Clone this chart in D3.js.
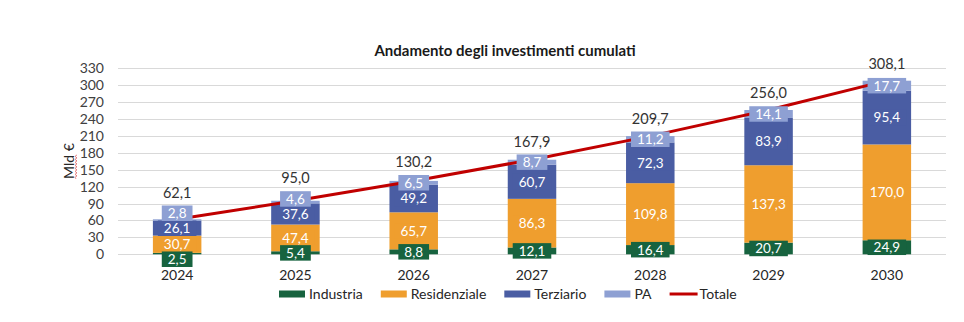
<!DOCTYPE html>
<html>
<head>
<meta charset="utf-8">
<script src="https://cdn.jsdelivr.net/npm/d3@7/dist/d3.min.js"></script>
<style>
  html, body { margin: 0; padding: 0; background: #fff; }
  svg { display: block; font-family: Lato, "Noto Sans", sans-serif; }
</style>
</head>
<body>
<svg id="chart" width="964" height="322"></svg>
<script>
const years = ["2024", "2025", "2026", "2027", "2028", "2029", "2030"];
const industria = [2.5, 5.4, 8.8, 12.1, 16.4, 20.7, 24.9];
const residenziale = [30.7, 47.4, 65.7, 86.3, 109.8, 137.3, 170.0];
const terziario = [26.1, 37.6, 49.2, 60.7, 72.3, 83.9, 95.4];
const pa = [2.8, 4.6, 6.5, 8.7, 11.2, 14.1, 17.7];
const totale = [62.1, 95.0, 130.2, 167.9, 209.7, 256.0, 308.1];
const yTicks = [0, 30, 60, 90, 120, 150, 180, 210, 240, 270, 300, 330];
const seriesNames = ["Industria", "Residenziale", "Terziario", "PA"];
const seriesColors = ["#17633F", "#EF9E2E", "#4A5DA3", "#8EA0D3"];
const lineName = "Totale";
const lineColor = "#C00000";
const title = "Andamento degli investimenti cumulati";
const yLabel = "Mld €";

const fmt = v => d3.format(".1f")(v).replace(".", ",");
const svg = d3.select("#chart");

const x = d3.scaleBand().domain(years).range([118, 946]).paddingInner(0.59).paddingOuter(0.295);
const y = d3.scaleLinear().domain([0, 330]).range([254.3, 68.3]);

// title
svg.append("text").attr("x", 505).attr("y", 56).attr("text-anchor", "middle")
  .attr("font-size", 15).attr("font-weight", "bold").attr("fill", "#1a1a1a").text(title);

// gridlines
svg.append("g").selectAll("line").data(yTicks).join("line")
  .attr("x1", 118).attr("x2", 946)
  .attr("y1", d => Math.round(y(d)) + 0.5).attr("y2", d => Math.round(y(d)) + 0.5)
  .attr("stroke", "#D9D9D9").attr("stroke-width", 1);

// y axis ticks
const yAxis = d3.axisLeft(y).tickValues(yTicks).tickSize(0).tickPadding(0).tickFormat(d3.format("d"));
const yg = svg.append("g").attr("transform", "translate(104,0)").call(yAxis);
yg.select(".domain").remove();
yg.selectAll("text").attr("font-size", 14).attr("fill", "#404040").attr("font-family", "Lato, sans-serif");

// y label
const yl = svg.append("g").attr("transform", "translate(69,161) rotate(-90)");
const ylt = yl.append("text").attr("text-anchor", "middle").attr("dy", "0.35em")
  .attr("font-size", 14).attr("fill", "#262626").text(yLabel);
{
  const fullW = ylt.node().getComputedTextLength();
  const tmp = yl.append("text").attr("font-size", 14).text("Mld");
  const mw = tmp.node().getComputedTextLength();
  tmp.remove();
  const x0 = -fullW / 2, x1 = x0 + mw;
  let p = `M${x0},7`;
  let up = true;
  for (let xx = x0 + 1.5; xx <= x1; xx += 1.5) { p += ` L${xx},${up ? 6 : 8}`; up = !up; }
  yl.append("path").attr("d", p).attr("fill", "none").attr("stroke", "#E06666").attr("stroke-width", 0.8);
}

// x labels
svg.append("g").selectAll("text").data(years).join("text")
  .attr("x", d => x(d) + x.bandwidth() / 2).attr("y", 280)
  .attr("text-anchor", "middle").attr("font-size", 14).attr("fill", "#262626").text(d => d);

// stacked data
const seriesVals = [industria, residenziale, terziario, pa];
const rows = years.map((yr, i) => {
  const r = { year: yr };
  seriesNames.forEach((n, k) => r[n] = seriesVals[k][i]);
  return r;
});
const stack = d3.stack().keys(seriesNames)(rows);

const barsG = svg.append("g");
stack.forEach((s, k) => {
  barsG.append("g").attr("fill", seriesColors[k]).selectAll("rect").data(s).join("rect")
    .attr("x", d => x(d.data.year)).attr("width", x.bandwidth())
    .attr("y", d => y(d[1])).attr("height", d => y(d[0]) - y(d[1]));
});

// total line
const line = d3.line().x((d, i) => x(years[i]) + x.bandwidth() / 2).y(d => y(d));
svg.append("path").datum(totale).attr("d", line).attr("fill", "none")
  .attr("stroke", lineColor).attr("stroke-width", 3);

// segment labels with boxes and overlap resolution
const labelsG = svg.append("g");
const boxH = 15.5;
const pushH = 15;
const paTops = [];
years.forEach((yr, i) => {
  const centers = stack.map(s => (y(s[i][0]) + y(s[i][1])) / 2);
  centers[0] = Math.max(centers[0], centers[1] + pushH);
  centers[3] = Math.min(centers[3], centers[2] - pushH);
  const cx = x(yr) + x.bandwidth() / 2;
  const order = [1, 2, 0, 3];
  order.forEach(k => {
    const g = labelsG.append("g");
    const rect = g.append("rect").attr("fill", seriesColors[k]);
    const t = g.append("text").attr("x", cx).attr("y", centers[k]).attr("dy", "0.36em")
      .attr("text-anchor", "middle").attr("font-size", 13.5).attr("fill", "#fff")
      .text(fmt(seriesVals[k][i]));
    const w = Math.min(t.node().getComputedTextLength() + 12, x.bandwidth() - 6);
    rect.attr("x", cx - w / 2).attr("y", centers[k] - boxH / 2).attr("width", w).attr("height", boxH);
    if (k === 3) paTops[i] = centers[k] - boxH / 2;
  });
});

// total labels
svg.append("g").selectAll("text").data(totale).join("text")
  .attr("x", (d, i) => x(years[i]) + x.bandwidth() / 2)
  .attr("y", (d, i) => Math.min(y(d) - 17, paTops[i] - 13))
  .attr("dy", "0.36em").attr("text-anchor", "middle")
  .attr("font-size", 14.5).attr("fill", "#333333").text(d => fmt(d));

// legend
const legend = svg.append("g");
let lx = 279;
const ly = 294;
const items = seriesNames.map((n, k) => ({ name: n, color: seriesColors[k], type: "bar" }))
  .concat([{ name: lineName, color: lineColor, type: "line" }]);
items.forEach(it => {
  if (it.type === "bar") {
    legend.append("rect").attr("x", lx).attr("y", ly - 3.5).attr("width", 26).attr("height", 7).attr("fill", it.color);
  } else {
    legend.append("line").attr("x1", lx).attr("x2", lx + 28).attr("y1", ly).attr("y2", ly)
      .attr("stroke", it.color).attr("stroke-width", 3);
  }
  const t = legend.append("text").attr("x", lx + 30).attr("y", ly).attr("dy", "0.36em")
    .attr("font-size", 14).attr("fill", "#262626").text(it.name);
  lx = lx + 30 + t.node().getComputedTextLength() + 18;
});
</script>
</body>
</html>
